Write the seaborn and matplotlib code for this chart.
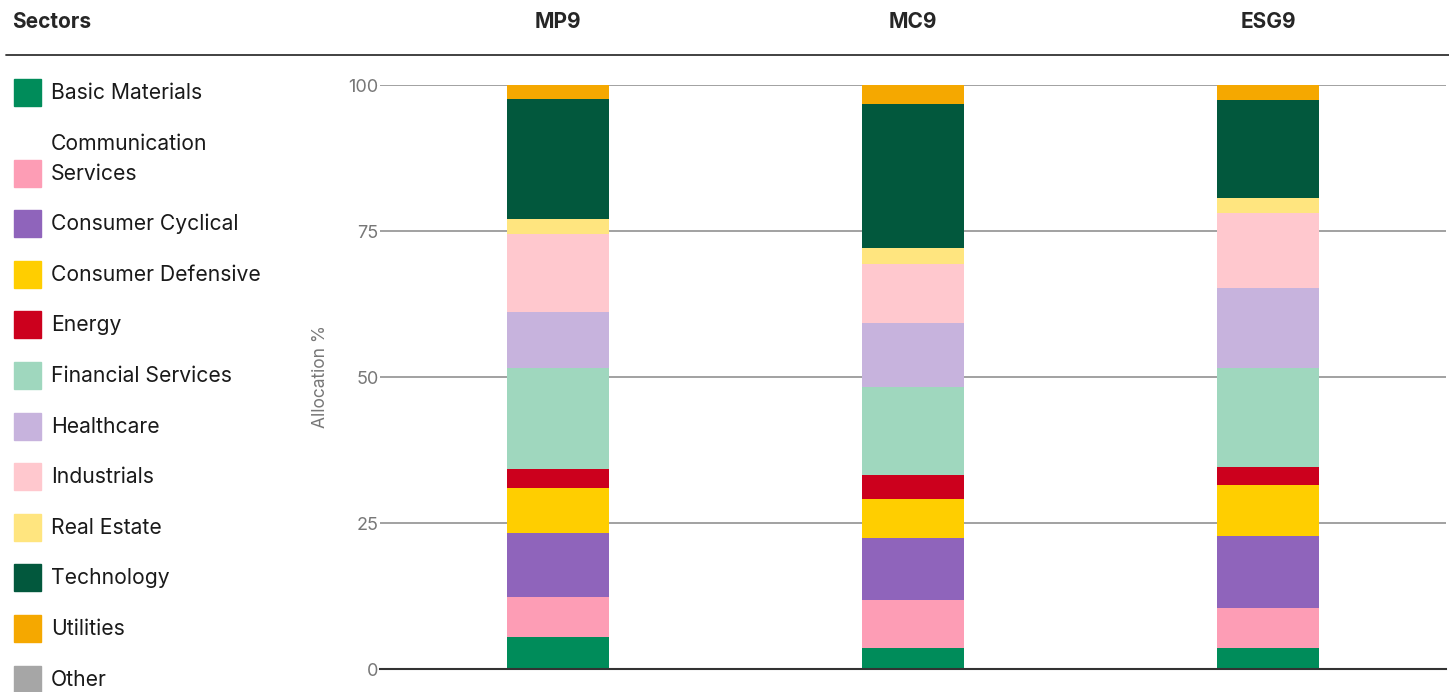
import pandas as pd
import matplotlib.pyplot as plt
from matplotlib.patches import Rectangle
from matplotlib.transforms import blended_transform_factory
import seaborn as sns

# data
funds = ['MP9', 'MC9', 'ESG9']
sectors = ['Basic Materials', 'Communication\nServices', 'Consumer Cyclical',
           'Consumer Defensive', 'Energy', 'Financial Services', 'Healthcare',
           'Industrials', 'Real Estate', 'Technology', 'Utilities', 'Other']
mp9 = [5.5, 6.9, 10.9, 7.7, 3.3, 17.2, 9.6, 13.4, 2.6, 20.5, 2.4, 0.0]
mc9 = [3.6, 8.2, 10.6, 6.7, 4.1, 15.1, 10.9, 10.1, 2.8, 24.6, 3.3, 0.0]
esg9 = [3.6, 6.8, 12.3, 8.8, 3.1, 16.9, 13.7, 12.8, 2.7, 16.8, 2.5, 0.0]
colors = ['#008C5A', '#FD9DB5', '#8F64BB', '#FFCE00', '#CC001D', '#9FD7BE',
          '#C7B3DD', '#FFC8CE', '#FFE57F', '#02583D', '#F5A800', '#A6A6A6']

df = pd.DataFrame({'MP9': mp9, 'MC9': mc9, 'ESG9': esg9}, index=sectors)
cum = df.cumsum()

sns.set_style('white')
plt.rcParams['font.family'] = ['Inter', 'DejaVu Sans']

W, H = 1449, 692
fig = plt.figure(figsize=(W / 100, H / 100), dpi=100)
ax = fig.add_axes([380 / W, 1 - 669 / H, 1066 / W, (669 - 85) / H])

# stacked bars: draw cumulative totals from the top down
for i in range(len(sectors) - 1, -1, -1):
    row = pd.DataFrame({'fund': funds, 'value': cum.iloc[i][funds].values})
    sns.barplot(data=row, x='fund', y='value', order=funds, color=colors[i],
                width=0.287, saturation=1, linewidth=0, ax=ax, zorder=2)

ax.set_xlim(-0.5, 2.5)
ax.set_ylim(0, 100)
ax.set_yticks([0, 25, 50, 75, 100])
ax.yaxis.grid(True, color='#9a9a9a', linewidth=1.3)
ax.set_axisbelow(True)
ax.set_xticks([])
ax.set_xlabel('')
ax.set_ylabel('Allocation %', fontsize=12.5, color='#777777', labelpad=14)
ax.tick_params(axis='y', length=0, pad=1, labelsize=13, labelcolor='#777777')
for s in ['left', 'right', 'top']:
    ax.spines[s].set_visible(False)
ax.spines['bottom'].set_color('#333333')
ax.spines['bottom'].set_linewidth(1.5)

# header row
fig.text(12 / W, 1 - 22 / H, 'Sectors', fontsize=15, fontweight='bold',
         ha='left', va='center')
trans = blended_transform_factory(ax.transData, fig.transFigure)
for j, f in enumerate(funds):
    ax.text(j, 1 - 22 / H, f, transform=trans, fontsize=15, fontweight='bold',
            ha='center', va='center')
fig.add_artist(plt.Line2D([6 / W, 1], [1 - 55 / H, 1 - 55 / H],
                          color='#333333', linewidth=1.3))

# legend on the left
y = 93
for i, name in enumerate(sectors):
    if '\n' in name:
        y += 30
    fig.add_artist(Rectangle((14 / W, 1 - (y + 13) / H), 27 / W, 27 / H,
                             color=colors[i], transform=fig.transFigure))
    parts = name.split('\n')
    for k, part in enumerate(reversed(parts)):
        fig.text(51 / W, 1 - (y - 30 * k) / H, part, fontsize=15.2,
                 ha='left', va='center', color='#1a1a1a')
    y += 50.6

fig.savefig('out.png', dpi=100)
